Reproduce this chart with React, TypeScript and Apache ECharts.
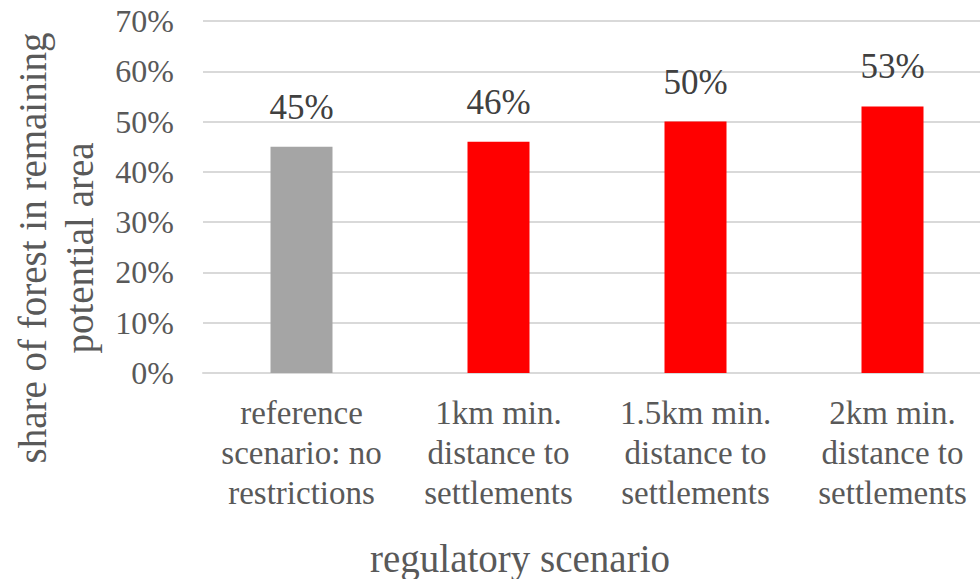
import React, { useEffect, useRef } from "react";
import * as echarts from "echarts";

const categories = [
  "reference\nscenario: no\nrestrictions",
  "1km min.\ndistance to\nsettlements",
  "1.5km min.\ndistance to\nsettlements",
  "2km min.\ndistance to\nsettlements",
];
const forestShare = [45, 46, 50, 53];
const barColors = ["#a5a5a5", "#ff0000", "#ff0000", "#ff0000"];
const yTitle = "share of forest in remaining\npotential area";
const xTitle = "regulatory scenario";

const FONT = "Liberation Serif";

export default function App() {
  const ref = useRef<HTMLDivElement>(null);

  useEffect(() => {
    if (!ref.current) return;
    const chart = echarts.init(ref.current, undefined, { renderer: "svg" });
    chart.setOption({
      animation: false,
      backgroundColor: "#ffffff",
      textStyle: { fontFamily: FONT },
      grid: { left: 203, top: 21, width: 788, height: 352, containLabel: false },
      xAxis: {
        type: "category",
        data: categories,
        axisLine: { show: true, lineStyle: { color: "#d9d9d9", width: 2 } },
        axisTick: { show: false },
        axisLabel: {
          interval: 0,
          margin: 20,
          color: "#595959",
          fontFamily: FONT,
          fontSize: 33,
          lineHeight: 40,
        },
      },
      yAxis: {
        type: "value",
        min: 0,
        max: 70,
        interval: 10,
        axisLine: { show: false },
        axisTick: { show: false },
        splitLine: { lineStyle: { color: "#d9d9d9", width: 2 } },
        axisLabel: {
          margin: 29,
          color: "#595959",
          fontFamily: FONT,
          fontSize: 32,
          formatter: (v: number) => `${v}%`,
        },
      },
      series: [
        {
          type: "bar",
          barWidth: 62,
          data: forestShare.map((v, i) => ({ value: v, itemStyle: { color: barColors[i] } })),
          label: {
            show: true,
            position: "top",
            distance: 22,
            color: "#404040",
            fontFamily: FONT,
            fontSize: 35,
            formatter: (p: any) => `${p.value}%`,
          },
        },
      ],
      graphic: [
        {
          type: "text",
          x: 56,
          y: 248,
          rotation: Math.PI / 2,
          style: {
            text: yTitle,
            fill: "#595959",
            fontFamily: FONT,
            fontSize: 39,
            lineHeight: 47,
            textAlign: "center",
            textVerticalAlign: "middle",
          },
        },
        {
          type: "text",
          x: 520,
          y: 558,
          style: {
            text: xTitle,
            fill: "#595959",
            fontFamily: FONT,
            fontSize: 39,
            textAlign: "center",
            textVerticalAlign: "middle",
          },
        },
      ],
    });
    return () => chart.dispose();
  }, []);

  return (
    <div style={{ position: "absolute", left: 0, top: 0, width: 980, height: 579, overflow: "hidden" }}>
      <div ref={ref} style={{ width: 1000, height: 579 }} />
    </div>
  );
}
